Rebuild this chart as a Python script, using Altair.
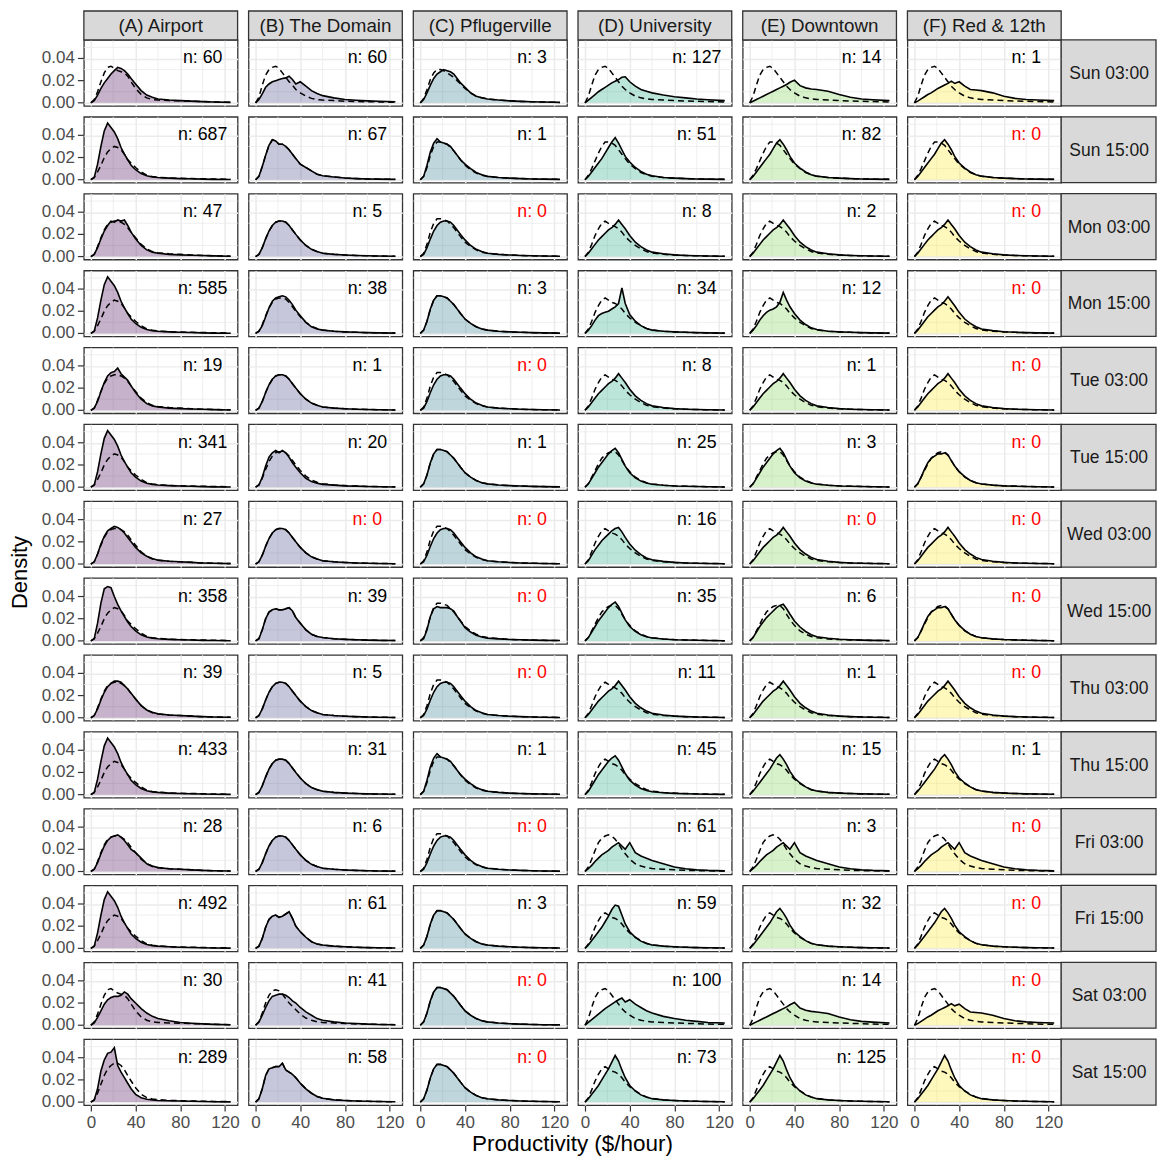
import altair as alt
import pandas as pd

ZONES = ["(A) Airport", "(B) The Domain", "(C) Pflugerville", "(D) University",
         "(E) Downtown", "(F) Red & 12th"]
TIMES = ["Sun 03:00", "Sun 15:00", "Mon 03:00", "Mon 15:00", "Tue 03:00", "Tue 15:00",
         "Wed 03:00", "Wed 15:00", "Thu 03:00", "Thu 15:00", "Fri 03:00", "Fri 15:00",
         "Sat 03:00", "Sat 15:00"]
ZONE_COLORS = ["#440154", "#414487", "#2A788E", "#22A884", "#7AD151", "#FDE725"]
X_TITLE = "Productivity ($/hour)"
Y_TITLE = "Density"

N_COUNTS = {
    "Sun 03:00": [60, 60, 3, 127, 14, 1],
    "Sun 15:00": [687, 67, 1, 51, 82, 0],
    "Mon 03:00": [47, 5, 0, 8, 2, 0],
    "Mon 15:00": [585, 38, 3, 34, 12, 0],
    "Tue 03:00": [19, 1, 0, 8, 1, 0],
    "Tue 15:00": [341, 20, 1, 25, 3, 0],
    "Wed 03:00": [27, 0, 0, 16, 0, 0],
    "Wed 15:00": [358, 39, 0, 35, 6, 0],
    "Thu 03:00": [39, 5, 0, 11, 1, 0],
    "Thu 15:00": [433, 31, 1, 45, 15, 1],
    "Fri 03:00": [28, 6, 0, 61, 3, 0],
    "Fri 15:00": [492, 61, 3, 59, 32, 0],
    "Sat 03:00": [30, 41, 0, 100, 14, 0],
    "Sat 15:00": [289, 58, 0, 73, 125, 0],
}

# productivity ($/hour) sample points
X_GRID = [0, 3, 6, 9, 12, 15, 18, 21, 24, 27, 30, 33, 36, 40, 45, 50, 55, 60, 70, 80, 90, 100, 110, 125]

# tick positions and labels
X_MAJOR = [0, 40, 80, 120]
X_MINOR = [20, 60, 100]
Y_MAJOR = [0, 0.02, 0.04]
Y_LABELS = ["0.00", "0.02", "0.04"]
Y_MINOR = [0.01, 0.03, 0.05]

# density curves, in units of 0.001
SHAPES = {
    "a_night": [0, 2, 7, 13, 18, 22, 26, 29, 32, 31, 29, 26, 22, 17, 11, 7, 5, 3.5, 2.5, 2, 1.5, 1.1, 0.8, 0.4],
    "a_mon03": [0, 2, 8, 16, 23, 28, 32, 31, 33, 32, 33, 28, 22, 16, 10, 6, 4, 3, 2, 1.5, 1.2, 0.9, 0.6, 0.3],
    "a_tue03": [0, 2, 8, 17, 25, 31, 34, 35, 38, 33, 30, 27, 22, 16, 10, 6, 4, 3, 2, 1.5, 1.2, 0.9, 0.6, 0.3],
    "a_wed03": [0, 2, 9, 18, 25, 30, 32, 34, 33, 31, 28, 24, 20, 15, 10, 7, 5, 3.5, 2.5, 2, 1.5, 1, 0.7, 0.4],
    "a_thu03": [0, 2, 8, 16, 23, 28, 31, 33, 33, 32, 29, 26, 22, 17, 11, 7, 5, 3.5, 2.5, 2, 1.5, 1, 0.7, 0.4],
    "a_fri03": [0, 2, 8, 16, 23, 28, 31, 32, 33, 31, 28, 24, 20, 17, 12, 7, 5, 3.5, 2.5, 2, 1.5, 1, 0.7, 0.4],
    "a_sat03": [0, 2, 7, 13, 19, 23, 25, 26, 26, 27, 30, 28, 24, 20, 15, 11, 8, 6, 4, 2.5, 1.8, 1.2, 0.8, 0.4],
    "a_day":   [0, 2, 14, 30, 44, 51, 47, 43, 37, 29, 23, 18, 13, 9, 5.5, 3.5, 2.5, 2, 1.4, 1, 0.8, 0.5, 0.3, 0.2],
    "a_wed15": [0, 2, 16, 34, 47, 49, 48, 40, 33, 27, 22, 17, 13, 9, 5.5, 3.5, 2.5, 2, 1.4, 1, 0.8, 0.5, 0.3, 0.2],
    "a_sat15": [0, 2, 12, 28, 38, 44, 45, 49, 33, 27, 22, 17, 12, 7, 4, 2.5, 2, 1.5, 1.2, 1, 0.8, 0.5, 0.3, 0.2],
    "b_sun03": [0, 3, 8, 14, 17, 19, 20, 21, 22, 22.5, 24, 21, 17, 19, 15, 11, 8.5, 6.5, 4.5, 3, 2.3, 1.8, 1.4, 1],
    "b_typ":   [0, 2, 8, 16, 23, 28, 31, 32, 32, 31, 28, 24, 20, 15, 10, 6.5, 4.5, 3, 2, 1.4, 1, 0.7, 0.5, 0.3],
    "b_sun15": [0, 3, 12, 22, 31, 36, 35, 32, 32, 30, 27, 23, 19, 14, 11, 8, 5, 3.5, 2.5, 1.5, 1, 0.7, 0.5, 0.3],
    "b_mon15": [0, 2, 7, 15, 23, 29, 32, 33, 34, 33, 30, 26, 21, 16, 10, 6, 4, 3, 2, 1.4, 1, 0.7, 0.5, 0.3],
    "b_tue15": [0, 2, 9, 19, 27, 31, 33, 31, 33, 31, 27, 22, 18, 13, 8, 5, 3.5, 2.5, 1.8, 1.2, 0.9, 0.6, 0.4, 0.2],
    "b_wed15": [0, 2, 10, 20, 26, 28, 29, 28, 28, 29, 30, 27, 21, 16, 10, 6, 4, 3, 2, 1.4, 1, 0.7, 0.5, 0.3],
    "b_fri15": [0, 2, 9, 19, 26, 29, 30, 28, 29, 31, 33, 27, 20, 15, 10, 6, 4, 3, 2, 1.4, 1, 0.7, 0.5, 0.3],
    "b_sat03": [0, 3, 9, 16, 22, 26, 27, 28, 28, 27, 25, 22, 20, 16, 12, 9, 6, 4.5, 3, 2, 1.5, 1, 0.7, 0.4],
    "b_sat15": [0, 3, 12, 24, 30, 31, 32, 32, 35, 29, 27, 25, 22, 17, 12, 8, 5, 3.5, 2, 1.4, 1, 0.7, 0.5, 0.3],
    "c_sun03": [0, 3, 9, 16, 22, 26, 28, 30, 29, 28, 26, 22, 18, 14, 9, 6, 4.5, 3.5, 2.5, 1.8, 1.3, 1, 0.7, 0.4],
    "c_sun15": [0, 3, 13, 25, 33, 37, 34, 33, 32, 30, 26, 22, 18, 14, 10, 6.5, 4.5, 3, 2, 1.4, 1, 0.7, 0.5, 0.3],
    "c_day":   [0, 3, 11, 22, 30, 34, 34, 33, 32, 29, 26, 22, 18, 13, 9, 6, 4, 3, 2, 1.4, 1, 0.7, 0.5, 0.3],
    "c_wed15": [0, 2, 10, 22, 29, 31, 30, 30, 30, 29, 27, 22, 18, 12, 8, 5, 3.5, 2.5, 1.8, 1.3, 1, 0.7, 0.5, 0.3],
    "d_sun03": [0, 2.5, 5, 7.5, 10, 12, 14, 16, 18, 19.5, 21, 23, 23.5, 19, 15, 12, 10.5, 9, 7, 5.5, 4.5, 3.5, 2.8, 2],
    "e_wide":  [0, 1.5, 3, 4.5, 6, 7.5, 9, 10.5, 12, 13.5, 15, 16.5, 18.5, 20.5, 15.5, 13.5, 12.5, 12, 10.5, 7.5, 5, 3.5, 2.8, 2],
    "f_wide":  [0, 1.5, 3.5, 5.5, 7.5, 9, 11, 13, 14.5, 16, 17.5, 19.5, 17.5, 19, 15, 12, 11.5, 11, 9, 6, 4, 3, 2.5, 2],
    "d_sat03": [0, 2.5, 5, 7.5, 10, 12.5, 15, 17, 19, 21, 23, 24.5, 21, 23, 19, 16, 13, 11, 8, 6, 4.5, 3.5, 2.5, 2],
    "d_day":   [0, 3, 7, 11, 15, 19, 24, 29, 34, 38, 33, 27, 21, 16, 11, 7.5, 5, 3.5, 2, 1.4, 1, 0.7, 0.5, 0.3],
    "e_day":   [0, 3, 7, 11, 15, 19, 23, 28, 33, 36, 32, 27, 21, 15, 10.5, 7, 4.5, 3.2, 2, 1.4, 1, 0.7, 0.5, 0.3],
    "def_typ": [0, 3, 7, 11, 15, 18, 21, 24, 26, 29, 33, 29, 25, 19, 13, 9, 6, 4, 2.5, 1.5, 1, 0.7, 0.5, 0.3],
    "def_wed": [0, 3, 8, 13, 17, 21, 24, 27, 30, 32, 33, 29, 24, 18, 12.5, 8.5, 5.5, 3.8, 2.4, 1.5, 1, 0.7, 0.5, 0.3],
    "d_mon15": [0, 3, 7, 12, 16, 18, 19, 20, 22, 24, 27, 41, 27, 17, 11, 7, 4.5, 3, 2, 1.4, 1, 0.7, 0.5, 0.3],
    "e_mon15": [0, 3, 7, 12, 16, 19, 21, 22, 24, 28, 37, 30, 24, 18, 12, 8, 5, 3.5, 2, 1.4, 1, 0.7, 0.5, 0.3],
    "d_tue15": [0, 3, 8, 13, 18, 22, 26, 30, 33, 35, 31, 25, 19, 13, 8.5, 5.5, 3.7, 2.6, 1.7, 1.1, 0.8, 0.6, 0.4, 0.2],
    "f_flat":  [0, 3, 9, 16, 22, 26, 28, 30, 30, 31, 29, 24, 19, 14, 9.5, 6, 4, 2.8, 1.8, 1.2, 0.9, 0.6, 0.4, 0.2],
    "def_fri03": [0, 2.5, 5.5, 9, 12, 15, 17, 19, 22, 24, 26, 23, 20, 26, 17, 14, 12, 10, 7, 4, 2.5, 1.5, 1, 0.6],
    "def_fri15": [0, 3, 7, 11, 15, 19, 24, 29, 35, 39, 38, 30, 22, 15, 10, 6.5, 4.5, 3, 2, 1.4, 1, 0.7, 0.5, 0.3],
    "def_sat15": [0, 3, 7, 11, 15, 20, 25, 30, 36, 42, 37, 29, 22, 15, 10, 6.5, 4.5, 3, 2, 1.4, 1, 0.7, 0.5, 0.3],
    "dash_a_night": [0, 3, 10, 19, 27, 32, 33, 31, 29, 28, 27, 24, 19, 13, 7.5, 4.5, 3, 2.5, 2, 1.8, 1.5, 1.2, 0.8, 0.4],
    "dash_a_mid":   [0, 2, 9, 17, 24, 29, 31, 32, 32, 31, 29, 26, 22, 17, 11, 7, 4.5, 3.5, 2.5, 2, 1.5, 1, 0.7, 0.4],
    "dash_a_day":   [0, 2, 7, 13, 20, 25, 28, 30, 29, 27, 23, 18, 15, 11, 7, 4, 2.8, 2.2, 1.6, 1.2, 1, 0.8, 0.6, 0.4],
    "dash_a_sat15": [0, 2, 8, 16, 24, 30, 33, 35, 35, 33, 29, 24, 19, 13, 7, 4, 2.8, 2.2, 1.6, 1.2, 1, 0.8, 0.6, 0.4],
    "dash_b_sun03": [0, 5, 16, 25, 30, 32, 33, 31, 27, 23, 19, 16, 12, 9, 6, 4, 3, 2.5, 2, 1.5, 1.2, 1, 0.8, 0.5],
    "dash_b_sat03": [0, 3, 11, 20, 27, 31, 32, 31, 28, 24, 20, 17, 14, 10, 6.5, 4.5, 3, 2.5, 2, 1.5, 1.2, 1, 0.8, 0.5],
    "dash_c_sun03": [0, 4, 12, 21, 27, 30, 30, 29, 27, 25, 23, 20, 17, 13, 9, 6, 4.5, 3.5, 2.5, 1.8, 1.3, 1, 0.7, 0.4],
    "dash_wide":    [0, 6, 16, 25, 30, 32, 33, 31, 27, 23, 19, 15, 12, 9, 6, 4.5, 3.5, 3, 2.5, 2, 1.7, 1.4, 1.1, 0.8],
    "dash_d_day":   [0, 4, 10, 17, 24, 30, 34, 34, 33, 31, 27, 23, 19, 14, 10, 6.5, 4.5, 3, 2, 1.4, 1, 0.7, 0.5, 0.3],
    "dash_def_typ": [0, 4, 11, 19, 25, 30, 32, 30, 28, 27, 25, 22, 18, 14, 10, 7, 4.5, 3.2, 2, 1.4, 1, 0.7, 0.5, 0.3],
    "dash_def_day": [0, 3, 9, 15, 21, 26, 29, 31, 32, 32, 29, 24, 19, 14, 9, 6, 4, 2.8, 1.8, 1.2, 0.9, 0.6, 0.4, 0.2],
    "dash_def_fri03": [0, 4, 11, 19, 26, 30, 32, 33, 32, 29, 25, 20, 16, 11, 7, 5, 3.5, 2.8, 2, 1.5, 1.1, 0.8, 0.6, 0.4],
}

SOLID_KEYS = {
    "Sun 03:00": ["a_night", "b_sun03", "c_sun03", "d_sun03", "e_wide", "f_wide"],
    "Sun 15:00": ["a_day", "b_sun15", "c_sun15", "d_day", "e_day", "e_day"],
    "Mon 03:00": ["a_mon03", "b_typ", "b_typ", "def_typ", "def_typ", "def_typ"],
    "Mon 15:00": ["a_day", "b_mon15", "c_day", "d_mon15", "e_mon15", "def_typ"],
    "Tue 03:00": ["a_tue03", "b_typ", "b_typ", "def_typ", "def_typ", "def_typ"],
    "Tue 15:00": ["a_day", "b_tue15", "c_day", "d_tue15", "d_tue15", "f_flat"],
    "Wed 03:00": ["a_wed03", "b_typ", "b_typ", "def_wed", "def_typ", "def_typ"],
    "Wed 15:00": ["a_wed15", "b_wed15", "c_wed15", "d_tue15", "def_wed", "f_flat"],
    "Thu 03:00": ["a_thu03", "b_typ", "b_typ", "def_typ", "def_typ", "def_typ"],
    "Thu 15:00": ["a_day", "b_typ", "c_sun15", "d_tue15", "e_day", "e_day"],
    "Fri 03:00": ["a_fri03", "b_typ", "b_typ", "def_fri03", "def_fri03", "def_fri03"],
    "Fri 15:00": ["a_day", "b_fri15", "c_day", "def_fri15", "e_day", "e_day"],
    "Sat 03:00": ["a_sat03", "b_sat03", "c_day", "d_sat03", "e_wide", "f_wide"],
    "Sat 15:00": ["a_sat15", "b_sat15", "c_day", "def_sat15", "def_sat15", "def_sat15"],
}

DASH_KEYS = {
    "Sun 03:00": ["dash_a_night", "dash_b_sun03", "dash_c_sun03", "dash_wide", "dash_wide", "dash_wide"],
    "Sun 15:00": ["dash_a_day", "b_sun15", "c_day", "dash_d_day", "dash_d_day", "dash_d_day"],
    "Mon 03:00": ["dash_a_mid", "b_typ", "c_day", "dash_def_typ", "dash_def_typ", "dash_def_typ"],
    "Mon 15:00": ["dash_a_day", "b_typ", "c_day", "dash_def_typ", "dash_def_typ", "dash_def_typ"],
    "Tue 03:00": ["dash_a_mid", "b_typ", "c_day", "dash_def_typ", "dash_def_typ", "dash_def_typ"],
    "Tue 15:00": ["dash_a_day", "b_typ", "c_day", "dash_def_day", "dash_def_day", "dash_def_day"],
    "Wed 03:00": ["dash_a_mid", "b_typ", "c_day", "dash_def_typ", "dash_def_typ", "dash_def_typ"],
    "Wed 15:00": ["dash_a_day", "b_wed15", "c_day", "dash_def_day", "dash_def_day", "dash_def_day"],
    "Thu 03:00": ["dash_a_mid", "b_typ", "c_day", "dash_def_typ", "dash_def_typ", "dash_def_typ"],
    "Thu 15:00": ["dash_a_day", "b_typ", "c_day", "dash_def_typ", "dash_def_typ", "dash_def_typ"],
    "Fri 03:00": ["dash_a_mid", "b_typ", "c_day", "dash_def_fri03", "dash_def_fri03", "dash_def_fri03"],
    "Fri 15:00": ["dash_a_day", "b_fri15", "c_day", "dash_def_typ", "dash_def_typ", "dash_def_typ"],
    "Sat 03:00": ["dash_a_night", "dash_b_sat03", "c_day", "dash_wide", "dash_wide", "dash_wide"],
    "Sat 15:00": ["dash_a_sat15", "b_sat15", "c_day", "dash_def_typ", "dash_def_typ", "dash_def_typ"],
}

# ---- build table ----
records = []
for t in TIMES:
    for zi, z in enumerate(ZONES):
        s = SHAPES[SOLID_KEYS[t][zi]]
        d = SHAPES[DASH_KEYS[t][zi]]
        for xv, ys, yd in zip(X_GRID, s, d):
            records.append({"kind": "curve", "time": t, "zone": z, "x": xv,
                            "solid": ys / 1000.0, "dash": yd / 1000.0})
        n = N_COUNTS[t][zi]
        records.append({"kind": "label", "time": t, "zone": z, "n": n, "txt": f"n: {n}"})
        for gx in X_MINOR:
            records.append({"kind": "vgrid", "time": t, "zone": z, "gx": gx})
        for gy in Y_MINOR:
            records.append({"kind": "hgrid", "time": t, "zone": z, "gy": gy})
    for yv, yl in zip(Y_MAJOR, Y_LABELS):
        records.append({"kind": "ylab", "time": t, "zone": ZONES[0], "yv": yv, "txt": yl})
    records.append({"kind": "rowstrip", "time": t, "zone": ZONES[-1]})
for z in ZONES:
    records.append({"kind": "colstrip", "time": TIMES[0], "zone": z})
records.append({"kind": "ytitle", "time": "Wed 03:00", "zone": ZONES[0], "txt": Y_TITLE})
records.append({"kind": "xtitle", "time": TIMES[-1], "zone": ZONES[2], "txt": X_TITLE})
df = pd.DataFrame(records)

W, H = 154, 66
SH = 29      # column strip height
RW = 95      # row strip width
FONT = "Liberation Sans"
GRID = "#EBEBEB"

xscale = alt.Scale(domain=[-6.25, 131.25], nice=False, zero=False)
yscale = alt.Scale(domain=[-0.0027, 0.0567], nice=False, zero=False)

xaxis = alt.Axis(values=X_MAJOR, title=None, domain=False, labelOverlap=False,
                 format="d", gridWidth=1.5)
yaxis = alt.Axis(values=Y_MAJOR, title=None, domain=False, labels=False, ticks=False,
                 gridWidth=1.5)

def kind(k):
    return alt.Chart().transform_filter(alt.datum.kind == k)

vgrid = kind("vgrid").mark_rule(color=GRID, strokeWidth=0.8).encode(
    x=alt.X("gx:Q", scale=xscale, axis=xaxis))
hgrid = kind("hgrid").mark_rule(color=GRID, strokeWidth=0.8).encode(
    y=alt.Y("gy:Q", scale=yscale, axis=yaxis))

curves = kind("curve")
area = curves.mark_area(fillOpacity=0.3, strokeWidth=0).encode(
    x=alt.X("x:Q", scale=xscale, axis=xaxis),
    y=alt.Y("solid:Q", scale=yscale, axis=yaxis),
    y2=alt.datum(0),
    color=alt.Color("zone:N", scale=alt.Scale(domain=ZONES, range=ZONE_COLORS), legend=None),
)
solid = curves.mark_line(color="black", strokeWidth=1.6).encode(
    x=alt.X("x:Q", scale=xscale, axis=xaxis), y=alt.Y("solid:Q", scale=yscale, axis=yaxis))
dashed = curves.mark_line(color="black", strokeWidth=1.5, strokeDash=[6, 4]).encode(
    x=alt.X("x:Q", scale=xscale, axis=xaxis), y=alt.Y("dash:Q", scale=yscale, axis=yaxis))

label = kind("label").mark_text(font=FONT, fontSize=17.8, align="center", baseline="middle").encode(
    x=alt.datum(100), y=alt.datum(0.04), text="txt:N",
    color=alt.condition("datum.n === 0", alt.value("#FF0000"), alt.value("#000000")),
)

# y tick labels and tick marks on the left column
ylab = kind("ylab").mark_text(font=FONT, fontSize=17, color="#4D4D4D",
                              align="right", baseline="middle").encode(
    x=alt.value(-9), y=alt.Y("yv:Q", scale=yscale, axis=yaxis), text="txt:N")
ytick = kind("ylab").mark_rule(color="#333333", strokeWidth=1.2).encode(
    x=alt.value(-6), x2=alt.value(0), y=alt.Y("yv:Q", scale=yscale, axis=yaxis))

cs_rect = kind("colstrip").mark_rect(fill="#D9D9D9", stroke="#333333", strokeWidth=1.3).encode(
    x=alt.value(0), x2=alt.value(W), y=alt.value(-SH), y2=alt.value(0))
cs_text = kind("colstrip").mark_text(font=FONT, fontSize=18.8, color="#1A1A1A",
                                     align="center", baseline="middle").encode(
    x=alt.value(W / 2), y=alt.value(-SH / 2 + 1), text="zone:N")

rs_rect = kind("rowstrip").mark_rect(fill="#D9D9D9", stroke="#333333", strokeWidth=1.3).encode(
    x=alt.value(W), x2=alt.value(W + RW), y=alt.value(0), y2=alt.value(H))
rs_text = kind("rowstrip").mark_text(font=FONT, fontSize=17.5, color="#1A1A1A",
                                     align="center", baseline="middle").encode(
    x=alt.value(W + RW / 2 + 0.5), y=alt.value(H / 2 + 1), text="time:N")

ytitle = kind("ytitle").mark_text(font=FONT, fontSize=22, color="#000000", angle=270,
                                  align="center", baseline="middle").encode(
    x=alt.value(-64), y=alt.value(H + 5.5), text="txt:N")
xtitle = kind("xtitle").mark_text(font=FONT, fontSize=22.5, color="#000000",
                                  align="center", baseline="middle").encode(
    x=alt.value(W + 5.5), y=alt.value(H + 38.5), text="txt:N")

panel = alt.layer(vgrid, hgrid, area, solid, dashed, label, ylab, ytick,
                  cs_rect, cs_text, rs_rect, rs_text, ytitle, xtitle,
                  data=df).properties(width=W, height=H)

chart = panel.facet(
    row=alt.Row("time:N", sort=TIMES, title=None,
                header=alt.Header(labels=False, labelPadding=0, titlePadding=0)),
    column=alt.Column("zone:N", sort=ZONES, title=None,
                      header=alt.Header(labels=False, labelPadding=0, titlePadding=0)),
    spacing={"row": 11, "column": 11},
    bounds="flush",
).properties(
    padding=0,
    background="white",
).configure_view(
    stroke="#333333", strokeWidth=1.3, fill="white"
).configure_axis(
    labelFont=FONT, labelFontSize=17, labelColor="#4D4D4D", labelOverlap=False,
    gridColor=GRID, tickColor="#333333", tickSize=6, tickWidth=1.2, labelPadding=3,
)

chart.save("out.html", embed_options={"renderer": "svg", "actions": False})
